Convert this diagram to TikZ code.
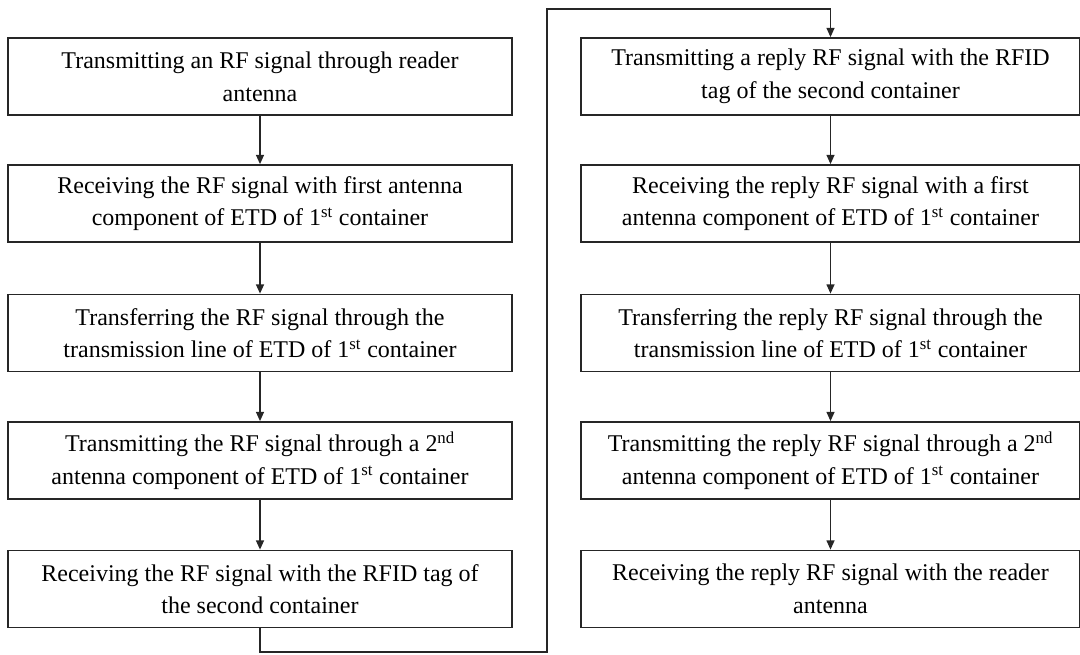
\documentclass[tikz,border=0pt]{standalone}
\usepackage{fontspec}
\setmainfont{Liberation Serif}
\usetikzlibrary{arrows.meta}
\begin{document}
\begin{tikzpicture}[x=0.75pt,y=-0.75pt,
  stepbox/.style={draw=black!85, line width=1.3pt, minimum height=57.75pt, inner sep=0pt,
    align=center, font=\fontsize{18}{24.5}\selectfont},
  lbox/.style={stepbox, minimum width=378pt},
  rbox/.style={stepbox, minimum width=374pt},
  conn/.style={draw=black!85, line width=1.1pt, -{Triangle[length=7pt,width=6pt]}},
  plainline/.style={draw=black!85, line width=1.1pt}]
\useasboundingbox (0,0) rectangle (1080,654);
\node[lbox] (l1) at (260,76.5) {Transmitting an RF signal through reader\\antenna};
\node[lbox] (l2) at (260,203.5) {Receiving the RF signal with first antenna\\component of ETD of 1\textsuperscript{st} container};
\node[lbox] (l3) at (260,333) {Transferring the RF signal through the\\transmission line of ETD of 1\textsuperscript{st} container};
\node[lbox] (l4) at (260,460.5) {Transmitting the RF signal through a 2\textsuperscript{nd}\\antenna component of ETD of 1\textsuperscript{st} container};
\node[lbox] (l5) at (260,589) {Receiving the RF signal with the RFID tag of\\the second container};
\node[rbox] (r1) at (830.5,76.5) {Transmitting a reply RF signal with the RFID\\tag of the second container};
\node[rbox] (r2) at (830.5,203.5) {Receiving the reply RF signal with a first\\antenna component of ETD of 1\textsuperscript{st} container};
\node[rbox] (r3) at (830.5,333) {Transferring the reply RF signal through the\\transmission line of ETD of 1\textsuperscript{st} container};
\node[rbox] (r4) at (830.5,460.5) {Transmitting the reply RF signal through a 2\textsuperscript{nd}\\antenna component of ETD of 1\textsuperscript{st} container};
\node[rbox] (r5) at (830.5,589) {Receiving the reply RF signal with the reader\\antenna};
\draw[conn] (l1) -- (l2);
\draw[conn] (l2) -- (l3);
\draw[conn] (l3) -- (l4);
\draw[conn] (l4) -- (l5);
\draw[conn] (r1) -- (r2);
\draw[conn] (r2) -- (r3);
\draw[conn] (r3) -- (r4);
\draw[conn] (r4) -- (r5);
\coordinate (b1) at (260,652);
\coordinate (b2) at (547,652);
\coordinate (b3) at (547,9);
\coordinate (b4) at (830.5,9);
\draw[plainline] (l5.south) -- (b1) -- (b2) -- (b3) -- (b4);
\draw[conn] (b4) -- (r1.north);
\end{tikzpicture}
\end{document}
